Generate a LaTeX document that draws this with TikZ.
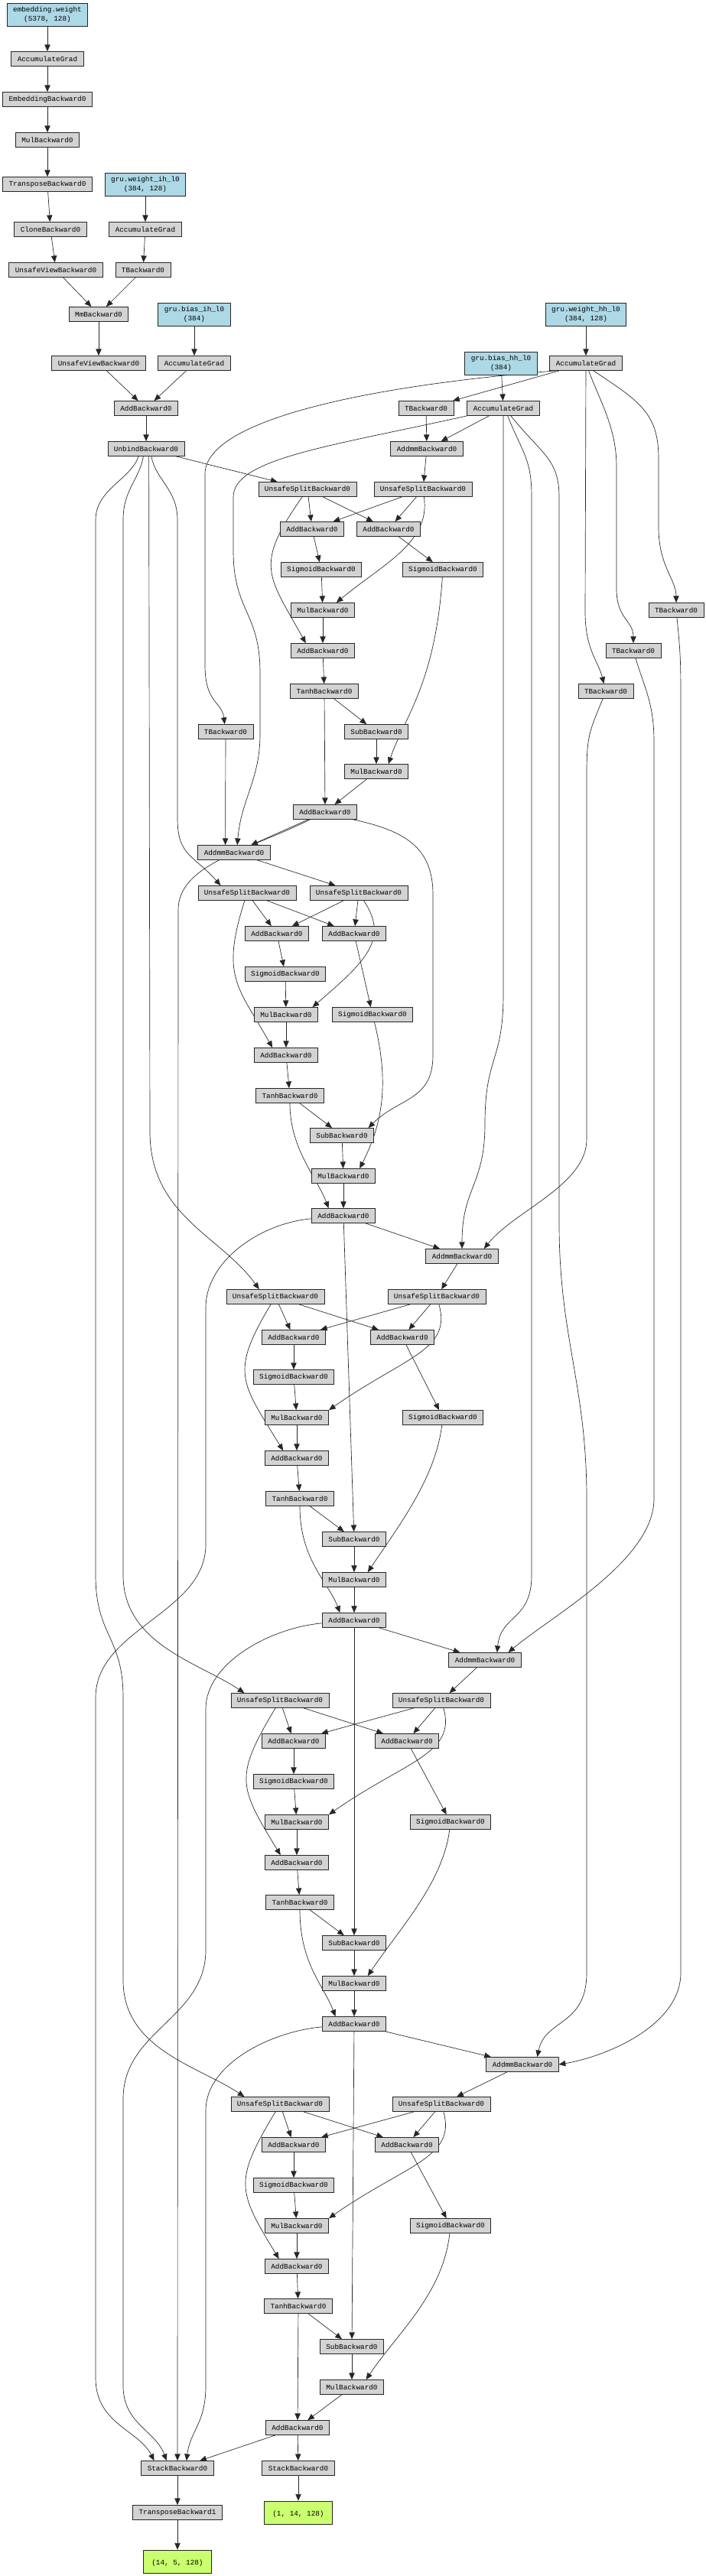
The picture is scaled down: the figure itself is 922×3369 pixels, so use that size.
\documentclass[tikz,border=0pt]{standalone}
\usepackage{fontspec}
\newfontfamily\gvfont{Liberation Mono}
\usepackage{tikz}
\usetikzlibrary{arrows.meta,backgrounds}
\definecolor{gvgray}{HTML}{D3D3D3}
\definecolor{gvblue}{HTML}{ADD8E6}
\definecolor{gvgreen}{HTML}{CAFF70}

\begin{document}
\begin{tikzpicture}[
    x=0.75pt, y=-0.75pt,
    >={Triangle[length=6.5pt,width=5.5pt]},
    font=\gvfont\fontsize{7}{8.5}\selectfont,
    fn/.style={
		rectangle,
		draw=black!85,
		line width=0.6pt,
		fill=gvgray,
		inner sep=0pt,
		inner xsep=6pt,
		minimum height=14.25pt
	},
	param/.style={
		fn,
		fill=gvblue,
		align=center,
		minimum height=22.5pt
	},
	tensor/.style={
		fn,
		fill=gvgreen,
		align=center,
		minimum height=22.5pt,
		minimum width=66.75pt
	},
	conn/.style={
		->,
		draw=black!85,
		line width=0.5pt
	}
  ]
  \useasboundingbox (0,0) rectangle (922,3369);

  % We start by placing the blocks
  \node [param] (emb_w) at (62,19) {embedding.weight\\(5378, 128)};
  \node [fn] (acc_emb) at (62,77) {AccumulateGrad};
  \node [fn] (embed) at (62,130) {EmbeddingBackward0};
  \node [fn] (mul_in) at (62,183) {MulBackward0};
  \node [fn] (trans_in) at (62,241) {TransposeBackward0};
  \node [param] (w_ih) at (190,241) {gru.weight\_ih\_l0\\(384, 128)};
  \node [fn] (clone) at (66,300) {CloneBackward0};
  \node [fn] (acc_wih) at (190,300) {AccumulateGrad};
  \node [fn] (view1) at (73,353) {UnsafeViewBackward0};
  \node [fn] (t_ih) at (187,353) {TBackward0};
  \node [fn] (mm) at (129,411) {MmBackward0};
  \node [param] (b_ih) at (254,411) {gru.bias\_ih\_l0\\(384)};
  \node [fn] (view2) at (129,475) {UnsafeViewBackward0};
  \node [fn] (acc_bih) at (254,475) {AccumulateGrad};
  \node [fn] (add_in) at (191,534) {AddBackward0};
  \node [fn] (unbind) at (191,587) {UnbindBackward0};

  \node [param] (w_hh) at (766,411) {gru.weight\_hh\_l0\\(384, 128)};
  \node [fn] (acc_whh) at (766,475) {AccumulateGrad};
  \node [param] (b_hh) at (655,475) {gru.bias\_hh\_l0\\(384)};
  \node [fn] (acc_bhh) at (658,534) {AccumulateGrad};
  \node [fn] (t_hh0) at (557,534) {TBackward0};
  \node [fn] (t_hh1) at (295,957) {TBackward0};
  \node [fn] (t_hh2) at (792,904) {TBackward0};
  \node [fn] (t_hh3) at (828,851) {TBackward0};
  \node [fn] (t_hh4) at (884,798) {TBackward0};

  % step 0
  \node [fn] (addmm0) at (558,587) {AddmmBackward0};
  \node [fn] (splx0) at (402,640) {UnsafeSplitBackward0};
  \node [fn] (splh0) at (553,640) {UnsafeSplitBackward0};
  \node [fn] (addr0) at (408,692) {AddBackward0};
  \node [fn] (addz0) at (508,692) {AddBackward0};
  \node [fn] (sigr0) at (420,745) {SigmoidBackward0};
  \node [fn] (sigz0) at (579,745) {SigmoidBackward0};
  \node [fn] (mulr0) at (422,798) {MulBackward0};
  \node [fn] (addn0) at (422,851) {AddBackward0};
  \node [fn] (tanh0) at (424,904) {TanhBackward0};
  \node [fn] (sub0) at (492,957) {SubBackward0};
  \node [fn] (mulz0) at (492,1009) {MulBackward0};
  \node [fn] (hid0) at (425,1062) {AddBackward0};

  % step 1
  \node [fn] (addmm1) at (306,1115) {AddmmBackward0};
  \node [fn] (splx1) at (323,1168) {UnsafeSplitBackward0};
  \node [fn] (splh1) at (469,1168) {UnsafeSplitBackward0};
  \node [fn] (addr1) at (362,1221) {AddBackward0};
  \node [fn] (addz1) at (463,1221) {AddBackward0};
  \node [fn] (sigr1) at (373,1274) {SigmoidBackward0};
  \node [fn] (mulr1) at (374,1327) {MulBackward0};
  \node [fn] (sigz1) at (487,1327) {SigmoidBackward0};
  \node [fn] (addn1) at (374,1380) {AddBackward0};
  \node [fn] (tanh1) at (379,1433) {TanhBackward0};
  \node [fn] (sub1) at (447,1485) {SubBackward0};
  \node [fn] (mulz1) at (449,1538) {MulBackward0};
  \node [fn] (hid1) at (449,1590) {AddBackward0};

  % step 2
  \node [fn] (addmm2) at (604,1643) {AddmmBackward0};
  \node [fn] (splx2) at (360,1696) {UnsafeSplitBackward0};
  \node [fn] (splh2) at (571,1696) {UnsafeSplitBackward0};
  \node [fn] (addr2) at (384,1749) {AddBackward0};
  \node [fn] (addz2) at (526,1749) {AddBackward0};
  \node [fn] (sigr2) at (384,1801) {SigmoidBackward0};
  \node [fn] (mulr2) at (388,1854) {MulBackward0};
  \node [fn] (sigz2) at (579,1854) {SigmoidBackward0};
  \node [fn] (addn2) at (388,1907) {AddBackward0};
  \node [fn] (tanh2) at (392,1960) {TanhBackward0};
  \node [fn] (sub2) at (463,2013) {SubBackward0};
  \node [fn] (mulz2) at (463,2066) {MulBackward0};
  \node [fn] (hid2) at (463,2119) {AddBackward0};

  % step 3
  \node [fn] (addmm3) at (634,2171) {AddmmBackward0};
  \node [fn] (splx3) at (366,2224) {UnsafeSplitBackward0};
  \node [fn] (splh3) at (577,2224) {UnsafeSplitBackward0};
  \node [fn] (addr3) at (384,2277) {AddBackward0};
  \node [fn] (addz3) at (532,2277) {AddBackward0};
  \node [fn] (sigr3) at (384,2330) {SigmoidBackward0};
  \node [fn] (mulr3) at (388,2383) {MulBackward0};
  \node [fn] (sigz3) at (589,2383) {SigmoidBackward0};
  \node [fn] (addn3) at (388,2436) {AddBackward0};
  \node [fn] (tanh3) at (392,2488) {TanhBackward0};
  \node [fn] (sub3) at (463,2541) {SubBackward0};
  \node [fn] (mulz3) at (463,2594) {MulBackward0};
  \node [fn] (hid3) at (463,2647) {AddBackward0};

  % step 4
  \node [fn] (addmm4) at (683,2700) {AddmmBackward0};
  \node [fn] (splx4) at (366,2752) {UnsafeSplitBackward0};
  \node [fn] (splh4) at (577,2752) {UnsafeSplitBackward0};
  \node [fn] (addr4) at (384,2805) {AddBackward0};
  \node [fn] (addz4) at (532,2805) {AddBackward0};
  \node [fn] (sigr4) at (384,2858) {SigmoidBackward0};
  \node [fn] (mulr4) at (388,2911) {MulBackward0};
  \node [fn] (sigz4) at (589,2911) {SigmoidBackward0};
  \node [fn] (addn4) at (388,2964) {AddBackward0};
  \node [fn] (tanh4) at (390,3016) {TanhBackward0};
  \node [fn] (sub4) at (460,3069) {SubBackward0};
  \node [fn] (mulz4) at (460,3122) {MulBackward0};
  \node [fn] (hid4) at (389,3175) {AddBackward0};

  % outputs
  \node [fn] (stk) at (232,3228) {StackBackward0};
  \node [fn] (stk2) at (390,3228) {StackBackward0};
  \node [fn] (tr1) at (232,3286) {TransposeBackward1};
  \node [tensor] (out1) at (232,3350) {~\\(14, 5, 128)};
  \node [tensor] (out2) at (390,3286) {~\\(1, 14, 128)};

  \begin{scope}[on background layer]
  % input side
  \draw [conn] (emb_w) -- (acc_emb);
  \draw [conn] (acc_emb) -- (embed);
  \draw [conn] (embed) -- (mul_in);
  \draw [conn] (mul_in) -- (trans_in);
  \draw [conn] (trans_in) -- (clone);
  \draw [conn] (clone) -- (view1);
  \draw [conn] (view1) -- (mm);
  \draw [conn] (w_ih) -- (acc_wih);
  \draw [conn] (acc_wih) -- (t_ih);
  \draw [conn] (t_ih) -- (mm);
  \draw [conn] (mm) -- (view2);
  \draw [conn] (view2) -- (add_in);
  \draw [conn] (b_ih) -- (acc_bih);
  \draw [conn] (acc_bih) -- (add_in);
  \draw [conn] (add_in) -- (unbind);

  % hidden weights
  \draw [conn] (w_hh) -- (acc_whh);
  \draw [conn] (b_hh) -- (acc_bhh);
  \draw [conn] (acc_whh) -- (t_hh0);
  \draw [conn] (acc_whh.-166) .. controls +(-250,20) and +(0,-70) .. (268,620) -- (268,870) .. controls +(0,50) and +(-5,-40) .. (t_hh1);
  \draw [conn] (acc_whh) -- (765,800) .. controls +(0,50) and +(-10,-40) .. (t_hh2);
  \draw [conn] (acc_whh.-70) .. controls +(15,40) and +(0,-50) .. (806,610) -- (806,770) .. controls +(0,40) and +(0,-40) .. (t_hh3);
  \draw [conn] (acc_whh.-45) .. controls +(60,40) and +(0,-60) .. (861,600) -- (861,690) .. controls +(0,50) and +(0,-40) .. (t_hh4);

  \draw [conn] (acc_bhh) -- (addmm0);
  \draw [conn] (acc_bhh.south west) .. controls +(-180,40) and +(0,-50) .. (305,650) -- (305,720) .. controls +(0,80) and +(0,-80) .. (340,880) -- (340,960) .. controls +(0,60) and +(5,-60) .. (addmm1.67);
  \draw [conn] (acc_bhh) -- (658,1300) .. controls +(0,90) and +(0,-90) .. (634,1470) .. controls +(0,80) and +(0,-80) .. (addmm2.north);
  \draw [conn] (acc_bhh.-60) .. controls +(20,50) and +(0,-50) .. (695,650) -- (695,2060) .. controls +(0,60) and +(5,-50) .. (addmm3.32);
  \draw [conn] (acc_bhh.-45) .. controls +(40,50) and +(0,-50) .. (731,650) -- (731,1600) .. controls +(0,150) and +(0,-150) .. (767,1960) -- (767,2580) .. controls +(0,70) and +(10,-50) .. (addmm4.27);

  \draw [conn] (t_hh0) -- (addmm0);
  \draw [conn] (t_hh1) -- (addmm1.139);
  \draw [conn] (t_hh2) .. controls +(-20,50) and +(0,-50) .. (767,1010) -- (767,1490) .. controls +(0,60) and +(40,-50) .. (addmm2.19);
  \draw [conn] (t_hh3) .. controls +(15,50) and +(0,-50) .. (855,970) -- (855,1960) .. controls +(0,80) and +(60,-50) .. (addmm3.18);
  \draw [conn] (t_hh4) .. controls +(5,50) and +(0,-50) .. (890,910) -- (890,2580) .. controls +(0,70) and +(60,-10) .. (addmm4.east);

  % input slices
  \draw [conn] (unbind) -- (splx0);
  \draw [conn] (unbind.-55) .. controls +(5,30) and +(0,-40) .. (232,680) -- (232,1070) .. controls +(0,50) and +(-35,-40) .. (splx1.164);
  \draw [conn] (unbind.-70) -- (196,1480) .. controls +(0,110) and +(-50,-70) .. (splx2.155);
  \draw [conn] (unbind.-110) .. controls +(-5,30) and +(0,-40) .. (161,680) -- (161,2060) .. controls +(0,90) and +(-60,-40) .. (splx3.168);
  \draw [conn] (unbind.-135) .. controls +(-10,30) and +(0,-40) .. (125,680) -- (125,2060) .. controls +(0,80) and +(0,-80) .. (161,2220) -- (161,2590) .. controls +(0,90) and +(-60,-40) .. (splx4.168);

  % step 0
  \draw [conn] (addmm0) -- (splh0);
  \draw [conn] (splx0) -- (addr0);
  \draw [conn] (splx0) -- (addz0);
  \draw [conn] (splx0) .. controls +(-70,100) and +(-50,-90) .. (addn0.156);
  \draw [conn] (splh0) -- (addr0);
  \draw [conn] (splh0) -- (addz0);
  \draw [conn] (splh0) .. controls +(10,70) and +(60,-50) .. (mulr0.29);
  \draw [conn] (addr0) -- (sigr0);
  \draw [conn] (sigr0) -- (mulr0);
  \draw [conn] (mulr0) -- (addn0);
  \draw [conn] (addn0) -- (tanh0);
  \draw [conn] (addz0) -- (sigz0);
  \draw [conn] (sigz0) .. controls +(-10,150) and +(20,-60) .. (mulz0.32);
  \draw [conn] (tanh0) -- (sub0);
  \draw [conn] (tanh0) -- (hid0);
  \draw [conn] (sub0) -- (mulz0);
  \draw [conn] (mulz0) -- (hid0);

  % step 1
  \draw [conn] (hid0) -- (addmm1);
  \draw [conn] (addmm1) -- (splh1);
  \draw [conn] (splx1) -- (addr1);
  \draw [conn] (splx1) -- (addz1);
  \draw [conn] (splx1) .. controls +(-35,110) and +(-45,-80) .. (addn1.151);
  \draw [conn] (splh1) -- (addr1);
  \draw [conn] (splh1) -- (addz1);
  \draw [conn] (splh1) .. controls +(40,60) and +(70,-60) .. (mulr1.16);
  \draw [conn] (addr1) -- (sigr1);
  \draw [conn] (sigr1) -- (mulr1);
  \draw [conn] (mulr1) -- (addn1);
  \draw [conn] (addn1) -- (tanh1);
  \draw [conn] (addz1) -- (sigz1);
  \draw [conn] (sigz1) .. controls +(25,100) and +(25,-50) .. (mulz1.25);
  \draw [conn] (tanh1) -- (sub1);
  \draw [conn] (tanh1) .. controls +(0,70) and +(-15,-40) .. (hid1.153);
  \draw [conn] (sub1) -- (mulz1);
  \draw [conn] (mulz1) -- (hid1);
  \draw [conn] (hid0.-15) .. controls +(70,15) and +(0,-60) .. (566,1170) -- (566,1380) .. controls +(0,60) and +(40,-40) .. (sub1.16);
  \draw [conn] (hid0) .. controls +(-100,50) and +(0,-60) .. (233,1190) -- (stk.90);

  % step 2
  \draw [conn] (hid1) -- (addmm2);
  \draw [conn] (addmm2) -- (splh2);
  \draw [conn] (splx2) -- (addr2);
  \draw [conn] (splx2) -- (addz2);
  \draw [conn] (splx2) .. controls +(-60,100) and +(-55,-90) .. (addn2.151);
  \draw [conn] (splh2) -- (addr2);
  \draw [conn] (splh2) -- (addz2);
  \draw [conn] (splh2) .. controls +(20,70) and +(100,-70) .. (mulr2.north east);
  \draw [conn] (addr2) -- (sigr2);
  \draw [conn] (sigr2) -- (mulr2);
  \draw [conn] (mulr2) -- (addn2);
  \draw [conn] (addn2) -- (tanh2);
  \draw [conn] (addz2) -- (sigz2);
  \draw [conn] (sigz2) .. controls +(-10,80) and +(40,-60) .. (mulz2.29);
  \draw [conn] (tanh2) -- (sub2);
  \draw [conn] (tanh2) .. controls +(0,80) and +(-15,-40) .. (hid2.152);
  \draw [conn] (sub2) -- (mulz2);
  \draw [conn] (mulz2) -- (hid2);
  \draw [conn] (hid1) -- (sub2);
  \draw [conn] (hid1) .. controls +(-110,10) and +(0,-60) .. (269,1710) -- (269,2020) .. controls +(0,90) and +(0,-90) .. (125,2220) -- (125,3110) .. controls +(0,60) and +(-20,-40) .. (stk.162);

  % step 3
  \draw [conn] (hid2) -- (addmm3);
  \draw [conn] (addmm3) -- (splh3);
  \draw [conn] (splx3) -- (addr3);
  \draw [conn] (splx3) -- (addz3);
  \draw [conn] (splx3) .. controls +(-60,100) and +(-55,-90) .. (addn3.155);
  \draw [conn] (splh3) -- (addr3);
  \draw [conn] (splh3) -- (addz3);
  \draw [conn] (splh3) .. controls +(20,70) and +(100,-70) .. (mulr3.north east);
  \draw [conn] (addr3) -- (sigr3);
  \draw [conn] (sigr3) -- (mulr3);
  \draw [conn] (mulr3) -- (addn3);
  \draw [conn] (addn3) -- (tanh3);
  \draw [conn] (addz3) -- (sigz3);
  \draw [conn] (sigz3) .. controls +(-10,80) and +(40,-60) .. (mulz3.29);
  \draw [conn] (tanh3) -- (sub3);
  \draw [conn] (tanh3) .. controls +(0,80) and +(-15,-40) .. (hid3.158);
  \draw [conn] (sub3) -- (mulz3);
  \draw [conn] (mulz3) -- (hid3);
  \draw [conn] (hid2) -- (sub3);
  \draw [conn] (hid2) .. controls +(-110,10) and +(0,-60) .. (269,2235) -- (269,2550) .. controls +(0,90) and +(0,-90) .. (161,2745) -- (161,3120) .. controls +(0,50) and +(-15,-40) .. (stk.145);

  % step 4
  \draw [conn] (hid3) -- (addmm4);
  \draw [conn] (addmm4) -- (splh4);
  \draw [conn] (splx4) -- (addr4);
  \draw [conn] (splx4) -- (addz4);
  \draw [conn] (splx4) .. controls +(-60,100) and +(-55,-90) .. (addn4.157);
  \draw [conn] (splh4) -- (addr4);
  \draw [conn] (splh4) -- (addz4);
  \draw [conn] (splh4) .. controls +(20,70) and +(100,-70) .. (mulr4.north east);
  \draw [conn] (addr4) -- (sigr4);
  \draw [conn] (sigr4) -- (mulr4);
  \draw [conn] (mulr4) -- (addn4);
  \draw [conn] (addn4) -- (tanh4);
  \draw [conn] (addz4) -- (sigz4);
  \draw [conn] (sigz4) .. controls +(-10,90) and +(40,-60) .. (mulz4.28);
  \draw [conn] (tanh4) -- (sub4);
  \draw [conn] (tanh4) -- (hid4);
  \draw [conn] (sub4) -- (mulz4);
  \draw [conn] (mulz4) -- (hid4);
  \draw [conn] (hid3) -- (sub4);
  \draw [conn] (hid3) .. controls +(-110,10) and +(0,-60) .. (269,2760) -- (269,3120) .. controls +(0,50) and +(5,-40) .. (stk.40);

  % outputs
  \draw [conn] (hid4) -- (stk);
  \draw [conn] (hid4) -- (stk2);
  \draw [conn] (stk) -- (tr1);
  \draw [conn] (tr1) -- (out1);
  \draw [conn] (stk2) -- (out2);
  \end{scope}

\end{tikzpicture}
\end{document}
